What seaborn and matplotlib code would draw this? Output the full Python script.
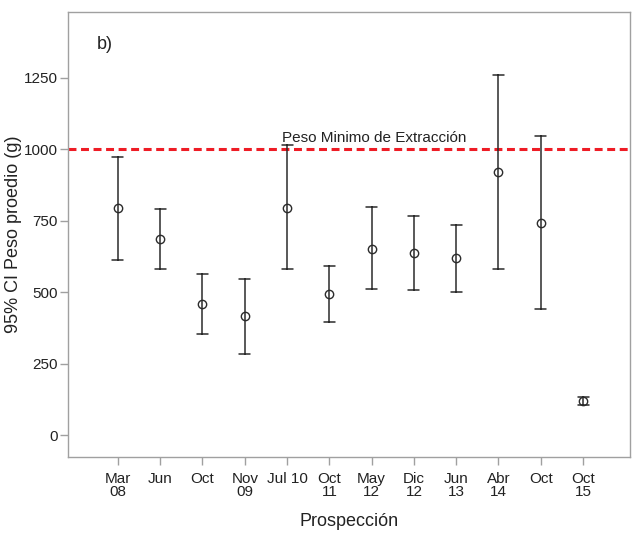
import matplotlib
matplotlib.use("Agg")
import matplotlib.pyplot as plt
import numpy as np
import pandas as pd
import seaborn as sns

# Sampling campaigns (unique keys) and their axis labels
campaigns = ["Mar 08", "Jun 08", "Oct 08", "Nov 09", "Jul 10", "Oct 11",
             "May 12", "Dic 12", "Jun 13", "Abr 14", "Oct 14", "Oct 15"]
tick_labels = ["Mar\n08", "Jun", "Oct", "Nov\n09", "Jul 10", "Oct\n11",
               "May\n12", "Dic\n12", "Jun\n13", "Abr\n14", "Oct", "Oct\n15"]

# Mean weight (g) and 95% confidence interval bounds
mean_weight = [796, 685, 459, 417, 796, 493, 652, 636, 620, 921, 743, 118]
ci_lower = [614, 581, 355, 283, 580, 395, 511, 507, 502, 582, 440, 104]
ci_upper = [973, 790, 565, 547, 1014, 591, 797, 768, 736, 1260, 1047, 132]

min_weight = 1000

sns.set_style("ticks")
plt.rcParams["font.family"] = ["Liberation Sans", "DejaVu Sans"]

# long table: lower / mean / upper per campaign; median = mean, full range = CI
rows = []
for c, lo, m, hi in zip(campaigns, ci_lower, mean_weight, ci_upper):
    for v in (lo, m, hi):
        rows.append({"campana": c, "peso": v})
df = pd.DataFrame(rows)

fig = plt.figure(figsize=(6.34, 5.34), dpi=100)
ax = fig.add_axes([0.1073, 0.1442, 0.8864, 0.8333])

ink = "#2b2b2b"
sns.pointplot(data=df, x="campana", y="peso", order=campaigns,
              estimator="median", errorbar=("pi", 100),
              linestyle="none", marker="o", markersize=6,
              markerfacecolor="none", markeredgewidth=1.0,
              color=ink, capsize=0.26, err_kws={"linewidth": 1.1},
              ax=ax)

ax.axhline(min_weight, color="#ee1c25", lw=2.2, linestyle=(0, (2.6, 1.5)), zorder=1)
ax.text(3.88, min_weight + 14, "Peso Minimo de Extracción", fontsize=11,
        color="#222222", ha="left", va="bottom")
ax.text(0.066, 0.926, "b)", transform=ax.transAxes, fontsize=13,
        color="#222222", ha="center", va="center")

ax.set_xlim(-1.18, 12.11)
ax.set_ylim(-77, 1481)
ax.set_yticks([0, 250, 500, 750, 1000, 1250])
ax.set_xticks(range(len(campaigns)))
ax.set_xticklabels(tick_labels, linespacing=0.92)

ax.set_xlabel("Prospección", fontsize=13, color="#222222", labelpad=10)
ax.set_ylabel("95% CI Peso proedio (g)", fontsize=13, color="#222222", labelpad=1)

for s in ax.spines.values():
    s.set_color("#a0a0a0")
    s.set_linewidth(1.0)
    s.set_visible(True)
ax.tick_params(axis="both", colors="#a0a0a0", labelcolor="#222222",
               labelsize=11, length=6, width=1.0, direction="out")
ax.tick_params(axis="x", pad=5)
ax.tick_params(axis="y", pad=1.5)

fig.savefig("out.png", dpi=100, facecolor="white")
